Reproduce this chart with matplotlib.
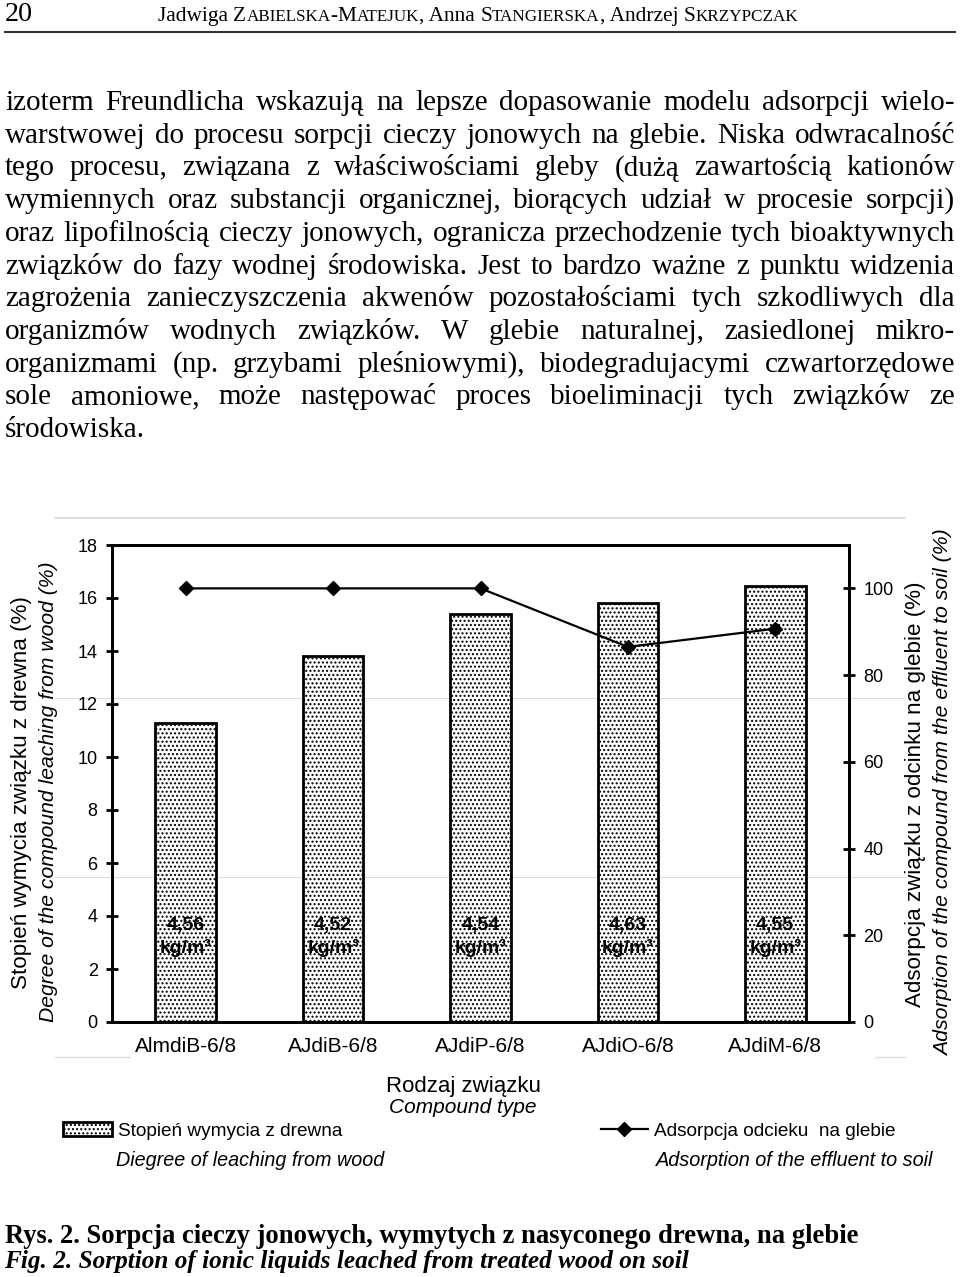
import matplotlib
matplotlib.use('Agg')
import matplotlib.pyplot as plt
from matplotlib.font_manager import FontProperties
from matplotlib.lines import Line2D

W, H = 960, 1277
serif = 'Liberation Serif'
sans = 'Liberation Sans'
plt.rcParams['font.family'] = sans
plt.rcParams['hatch.linewidth'] = 1.0

# chart data
compounds = ['AlmdiB-6/8', 'AJdiB-6/8', 'AJdiP-6/8', 'AJdiO-6/8', 'AJdiM-6/8']
leaching = [11.3, 13.8, 15.4, 15.8, 16.45]        # left axis, %
adsorption = [100, 100, 100, 86.5, 90.7]          # right axis, %
retention = ['4,56', '4,52', '4,54', '4,63', '4,55']

# page text
header_no = '20'
authors = [('Jadwiga ', 0), ('Z', 0), ('ABIELSKA', 1), ('-', 0), ('M', 0),
           ('ATEJUK', 1), (', Anna ', 0), ('S', 0), ('TANGIERSKA', 1),
           (', Andrzej ', 0), ('S', 0), ('KRZYPCZAK', 1)]
body = [
    'izoterm Freundlicha wskazują na lepsze dopasowanie modelu adsorpcji wielo-',
    'warstwowej do procesu sorpcji cieczy jonowych na glebie. Niska odwracalność',
    'tego procesu, związana z właściwościami gleby (dużą zawartością kationów',
    'wymiennych oraz substancji organicznej, biorących udział w procesie sorpcji)',
    'oraz lipofilnością cieczy jonowych, ogranicza przechodzenie tych bioaktywnych',
    'związków do fazy wodnej środowiska. Jest to bardzo ważne z punktu widzenia',
    'zagrożenia zanieczyszczenia akwenów pozostałościami tych szkodliwych dla',
    'organizmów wodnych związków. W glebie naturalnej, zasiedlonej mikro-',
    'organizmami (np. grzybami pleśniowymi), biodegradujacymi czwartorzędowe',
    'sole amoniowe, może następować proces bioeliminacji tych związków ze',
    'środowiska.',
]
caption_pl = 'Rys. 2. Sorpcja cieczy jonowych, wymytych z nasyconego drewna, na glebie'
caption_en = 'Fig. 2. Sorption of ionic liquids leached from treated wood on soil'

fig = plt.figure(figsize=(W / 100, H / 100), dpi=100)
r = fig.canvas.get_renderer()


def fx(x):
    return x / W


def fy(y):
    return 1 - y / H


def tw(s, prop):
    return r.get_text_width_height_descent(s, prop, ismath=False)[0]


def adv(s, prop):
    # advance width (ink of bars around the string minus the bars alone)
    return tw('|' + s + '|', prop) - tw('||', prop)


def put(x, y, s, width=None, **kw):
    t = fig.text(fx(x), fy(y), s, **kw)
    if width:
        bb = t.get_window_extent(renderer=r)
        t.set_fontsize(t.get_fontsize() * width / max(bb.width, bb.height))
    return t


def hline(y, x0, x1, color, lw, z=-1):
    fig.add_artist(Line2D([fx(x0), fx(x1)], [fy(y), fy(y)], color=color, lw=lw, zorder=z))


# header
put(5, 21, header_no, width=28, family=serif, size=20, va='baseline')
props = lambda size: [FontProperties(family=serif, size=size * (0.8 if sc else 1))
                      for _, sc in authors]
total = sum(adv(s, p) for (s, _), p in zip(authors, props(16)))
x = 158
for (s, _), p in zip(authors, props(16 * 642 / total)):
    fig.text(fx(x), fy(21), s, fontproperties=p, va='baseline')
    x += adv(s, p)
hline(32, 5, 955, '#333333', 1.5, z=1)

# body text, justified
probe = FontProperties(family=serif, size=21)
bsize = 21 * 140 / tw(body[-1], probe)
bprop = FontProperties(family=serif, size=bsize)
X0, X1 = 5, 955
for i, line in enumerate(body):
    y = 110 + 32.7 * i
    words = line.split()
    ws = [tw(w, bprop) for w in words]
    gap = (X1 - X0 - sum(ws)) / (len(words) - 1) if len(words) > 1 and i < len(body) - 1 else 0
    x = X0
    for w, wd in zip(words, ws):
        fig.text(fx(x), fy(y), w, fontproperties=bprop, va='baseline')
        x += wd + gap

# faint frame of the scanned chart
hline(518, 55, 905, '#d6d6d6', 1.2)
hline(698, 55, 905, '#dcdcdc', 0.8)
hline(877, 55, 905, '#dcdcdc', 0.8)
hline(1057, 55, 130, '#dcdcdc', 1.0)
hline(1057, 875, 905, '#dcdcdc', 1.0)

# chart
ax = fig.add_axes([fx(112), fy(1022), (849 - 112) / W, (1022 - 545) / H])
ax.set_facecolor('none')
pos = range(len(compounds))
bars = ax.bar(pos, leaching, width=0.41, color='white', edgecolor='black',
              hatch='....', lw=2, zorder=2)
ax.set_xlim(-0.5, 4.5)
ax.set_ylim(0, 18)
ax.set_yticks(range(0, 19, 2))
ax.set_xticks(list(pos))
ax.set_xticklabels(compounds, fontsize=15)
ax.tick_params(axis='x', length=0, pad=11)
ax.tick_params(axis='y', direction='inout', length=8.6, width=2, labelsize=13, pad=6)
for i, v in enumerate(retention):
    ax.text(i, 3.65, v, ha='center', va='center', fontsize=14, weight='bold', zorder=3)
    ax.text(i, 2.8, 'kg/m³', ha='center', va='center', fontsize=14, weight='bold', zorder=3)

ax2 = ax.twinx()
line, = ax2.plot(pos, adsorption, color='black', lw=1.6, marker='D', ms=7)
ax2.set_ylim(0, 110)
ax2.set_yticks(range(0, 101, 20))
ax2.tick_params(axis='y', direction='inout', length=8.6, width=2, labelsize=13, pad=6)
for a in (ax, ax2):
    for sp in a.spines.values():
        sp.set_linewidth(2)

# axis titles
put(22, 793, 'Stopień wymycia związku z drewna (%)', width=393, rotation=90,
    ha='center', va='center', size=15)
put(49, 792, 'Degree of the compound leaching from wood (%)', width=461, rotation=90,
    ha='center', va='center', style='italic', size=15)
put(916, 794, 'Adsorpcja związku z odcinku na glebie (%)', width=425, rotation=90,
    ha='center', va='center', size=15)
put(944, 793, 'Adsorption of the compound from the effluent to soil (%)', width=527,
    rotation=90, ha='center', va='center', style='italic', size=15)
put(463, 1092, 'Rodzaj związku', width=155, ha='center', va='baseline', size=15)
put(463, 1113, 'Compound type', width=148, ha='center', va='baseline', style='italic', size=15)

# legend
fig.legend([bars], ['Stopień wymycia z drewna'], loc='center left',
           bbox_to_anchor=(fx(63), fy(1131)), frameon=False, fontsize=13.7,
           handlelength=2.58, handleheight=0.7, handletextpad=0.31,
           borderpad=0, borderaxespad=0)
fig.legend([line], ['Adsorpcja odcieku  na glebie'], loc='center left',
           bbox_to_anchor=(fx(601), fy(1131)), frameon=False, fontsize=13.7,
           handlelength=2.47, handletextpad=0.31, borderpad=0, borderaxespad=0)
put(116, 1166, 'Diegree of leaching from wood', width=269, va='baseline',
    style='italic', size=14)
put(656, 1166, 'Adsorption of the effluent to soil', width=279, va='baseline',
    style='italic', size=14)

# caption
put(5, 1243, caption_pl, width=853, family=serif, weight='bold', size=18, va='baseline')
put(4, 1268, caption_en, width=686, family=serif, weight='bold', style='italic',
    size=18, va='baseline')

fig.savefig('out.png', dpi=100)
